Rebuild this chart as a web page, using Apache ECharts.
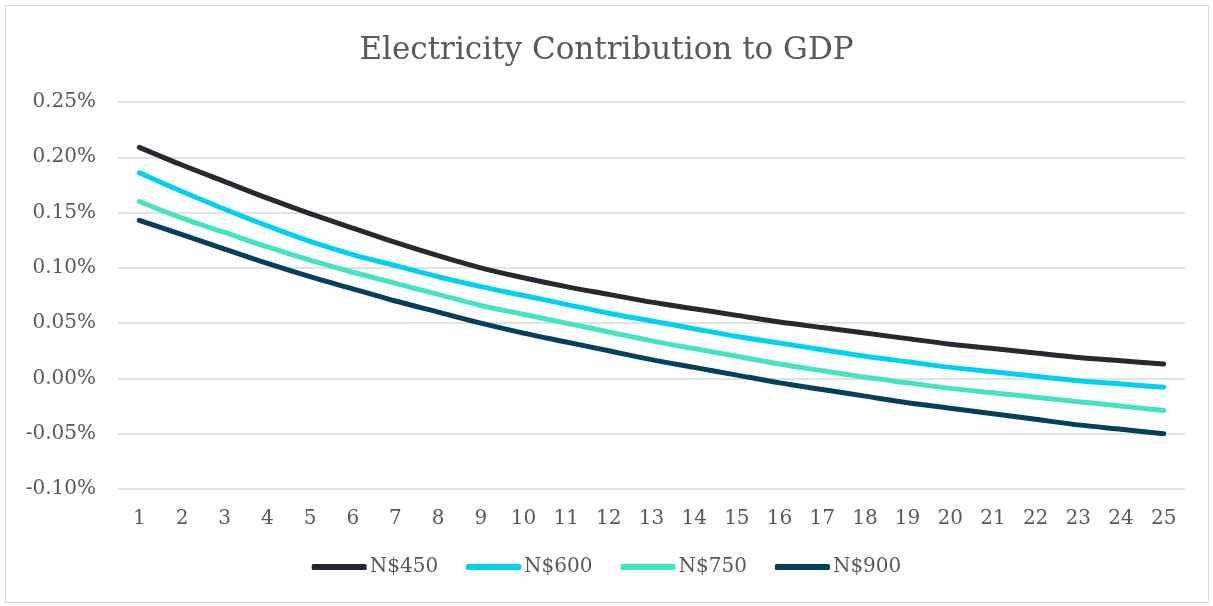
<!DOCTYPE html>
<html>
<head>
<meta charset="utf-8">
<script src="https://cdn.jsdelivr.net/npm/echarts@6/dist/echarts.min.js"></script>
<style>
  html, body { margin: 0; padding: 0; background: #fff; }
  #wrap { position: relative; width: 1213px; height: 606px; }
  #chart { position: absolute; left: 0; top: 0; width: 1213px; height: 606px; }
  #frame { position: absolute; left: 5px; top: 5px; right: 4px; bottom: 3px;
           border: 1px solid #d9d9d9; pointer-events: none; }
</style>
</head>
<body>
<div id="wrap">
  <div id="chart"></div>
  <div id="frame"></div>
</div>
<script>
// Years 1..25
const years = Array.from({ length: 25 }, (_, i) => String(i + 1));

// Contribution to GDP, in percent
const n450 = [0.209, 0.193, 0.178, 0.163, 0.149, 0.136, 0.123, 0.111, 0.100, 0.091,
              0.083, 0.076, 0.069, 0.063, 0.057, 0.051, 0.046, 0.041, 0.036, 0.031,
              0.027, 0.023, 0.019, 0.016, 0.013];
const n600 = [0.186, 0.169, 0.153, 0.138, 0.124, 0.112, 0.102, 0.092, 0.083, 0.075,
              0.067, 0.059, 0.052, 0.045, 0.038, 0.032, 0.026, 0.020, 0.015, 0.010,
              0.006, 0.002, -0.002, -0.005, -0.008];
const n750 = [0.160, 0.145, 0.132, 0.119, 0.107, 0.096, 0.086, 0.076, 0.066, 0.058,
              0.050, 0.042, 0.034, 0.027, 0.020, 0.013, 0.007, 0.001, -0.004, -0.009,
              -0.013, -0.017, -0.021, -0.025, -0.029];
const n900 = [0.143, 0.130, 0.117, 0.104, 0.092, 0.081, 0.070, 0.060, 0.050, 0.041,
              0.033, 0.025, 0.017, 0.010, 0.003, -0.004, -0.010, -0.016, -0.022, -0.027,
              -0.032, -0.037, -0.042, -0.046, -0.050];

const seriesNames = ['N$450', 'N$600', 'N$750', 'N$900'];
const seriesColors = ['#262a30', '#00d1ee', '#45e4c1', '#053f5c'];
const seriesData = [n450, n600, n750, n900];

const FONT = '"DejaVu Serif", serif';
const TEXT = '#595959';

const chart = echarts.init(document.getElementById('chart'), null, { renderer: 'canvas' });
chart.setOption({
  animation: false,
  backgroundColor: '#fff',
  title: {
    text: 'Electricity Contribution to GDP',
    left: 'center',
    top: 30,
    textStyle: { fontFamily: FONT, fontSize: 31, fontWeight: 'normal', color: TEXT }
  },
  legend: {
    bottom: 24,
    left: 'center',
    icon: 'roundRect',
    itemWidth: 55,
    itemHeight: 6,
    itemGap: 28,
    textStyle: { fontFamily: FONT, fontSize: 20, color: TEXT, padding: [0, 0, 0, -2] },
    data: seriesNames
  },
  grid: { left: 118, right: 28, top: 102, bottom: 117 },
  xAxis: {
    type: 'category',
    data: years,
    boundaryGap: true,
    axisLine: { show: false },
    axisTick: { show: false },
    axisLabel: { fontFamily: FONT, fontSize: 20, color: TEXT, margin: 20 }
  },
  yAxis: {
    type: 'value',
    min: -0.10,
    max: 0.25,
    interval: 0.05,
    axisLine: { show: false },
    axisTick: { show: false },
    splitLine: { lineStyle: { color: '#d9d9d9', width: 1.5 } },
    axisLabel: {
      fontFamily: FONT, fontSize: 20, color: TEXT, margin: 22,
      formatter: v => v.toFixed(2) + '%'
    }
  },
  series: seriesNames.map((name, i) => ({
    name,
    type: 'line',
    data: seriesData[i],
    smooth: 0.3,
    symbol: 'none',
    color: seriesColors[i],
    lineStyle: { width: 5, color: seriesColors[i], cap: 'round' }
  }))
});
</script>
</body>
</html>
